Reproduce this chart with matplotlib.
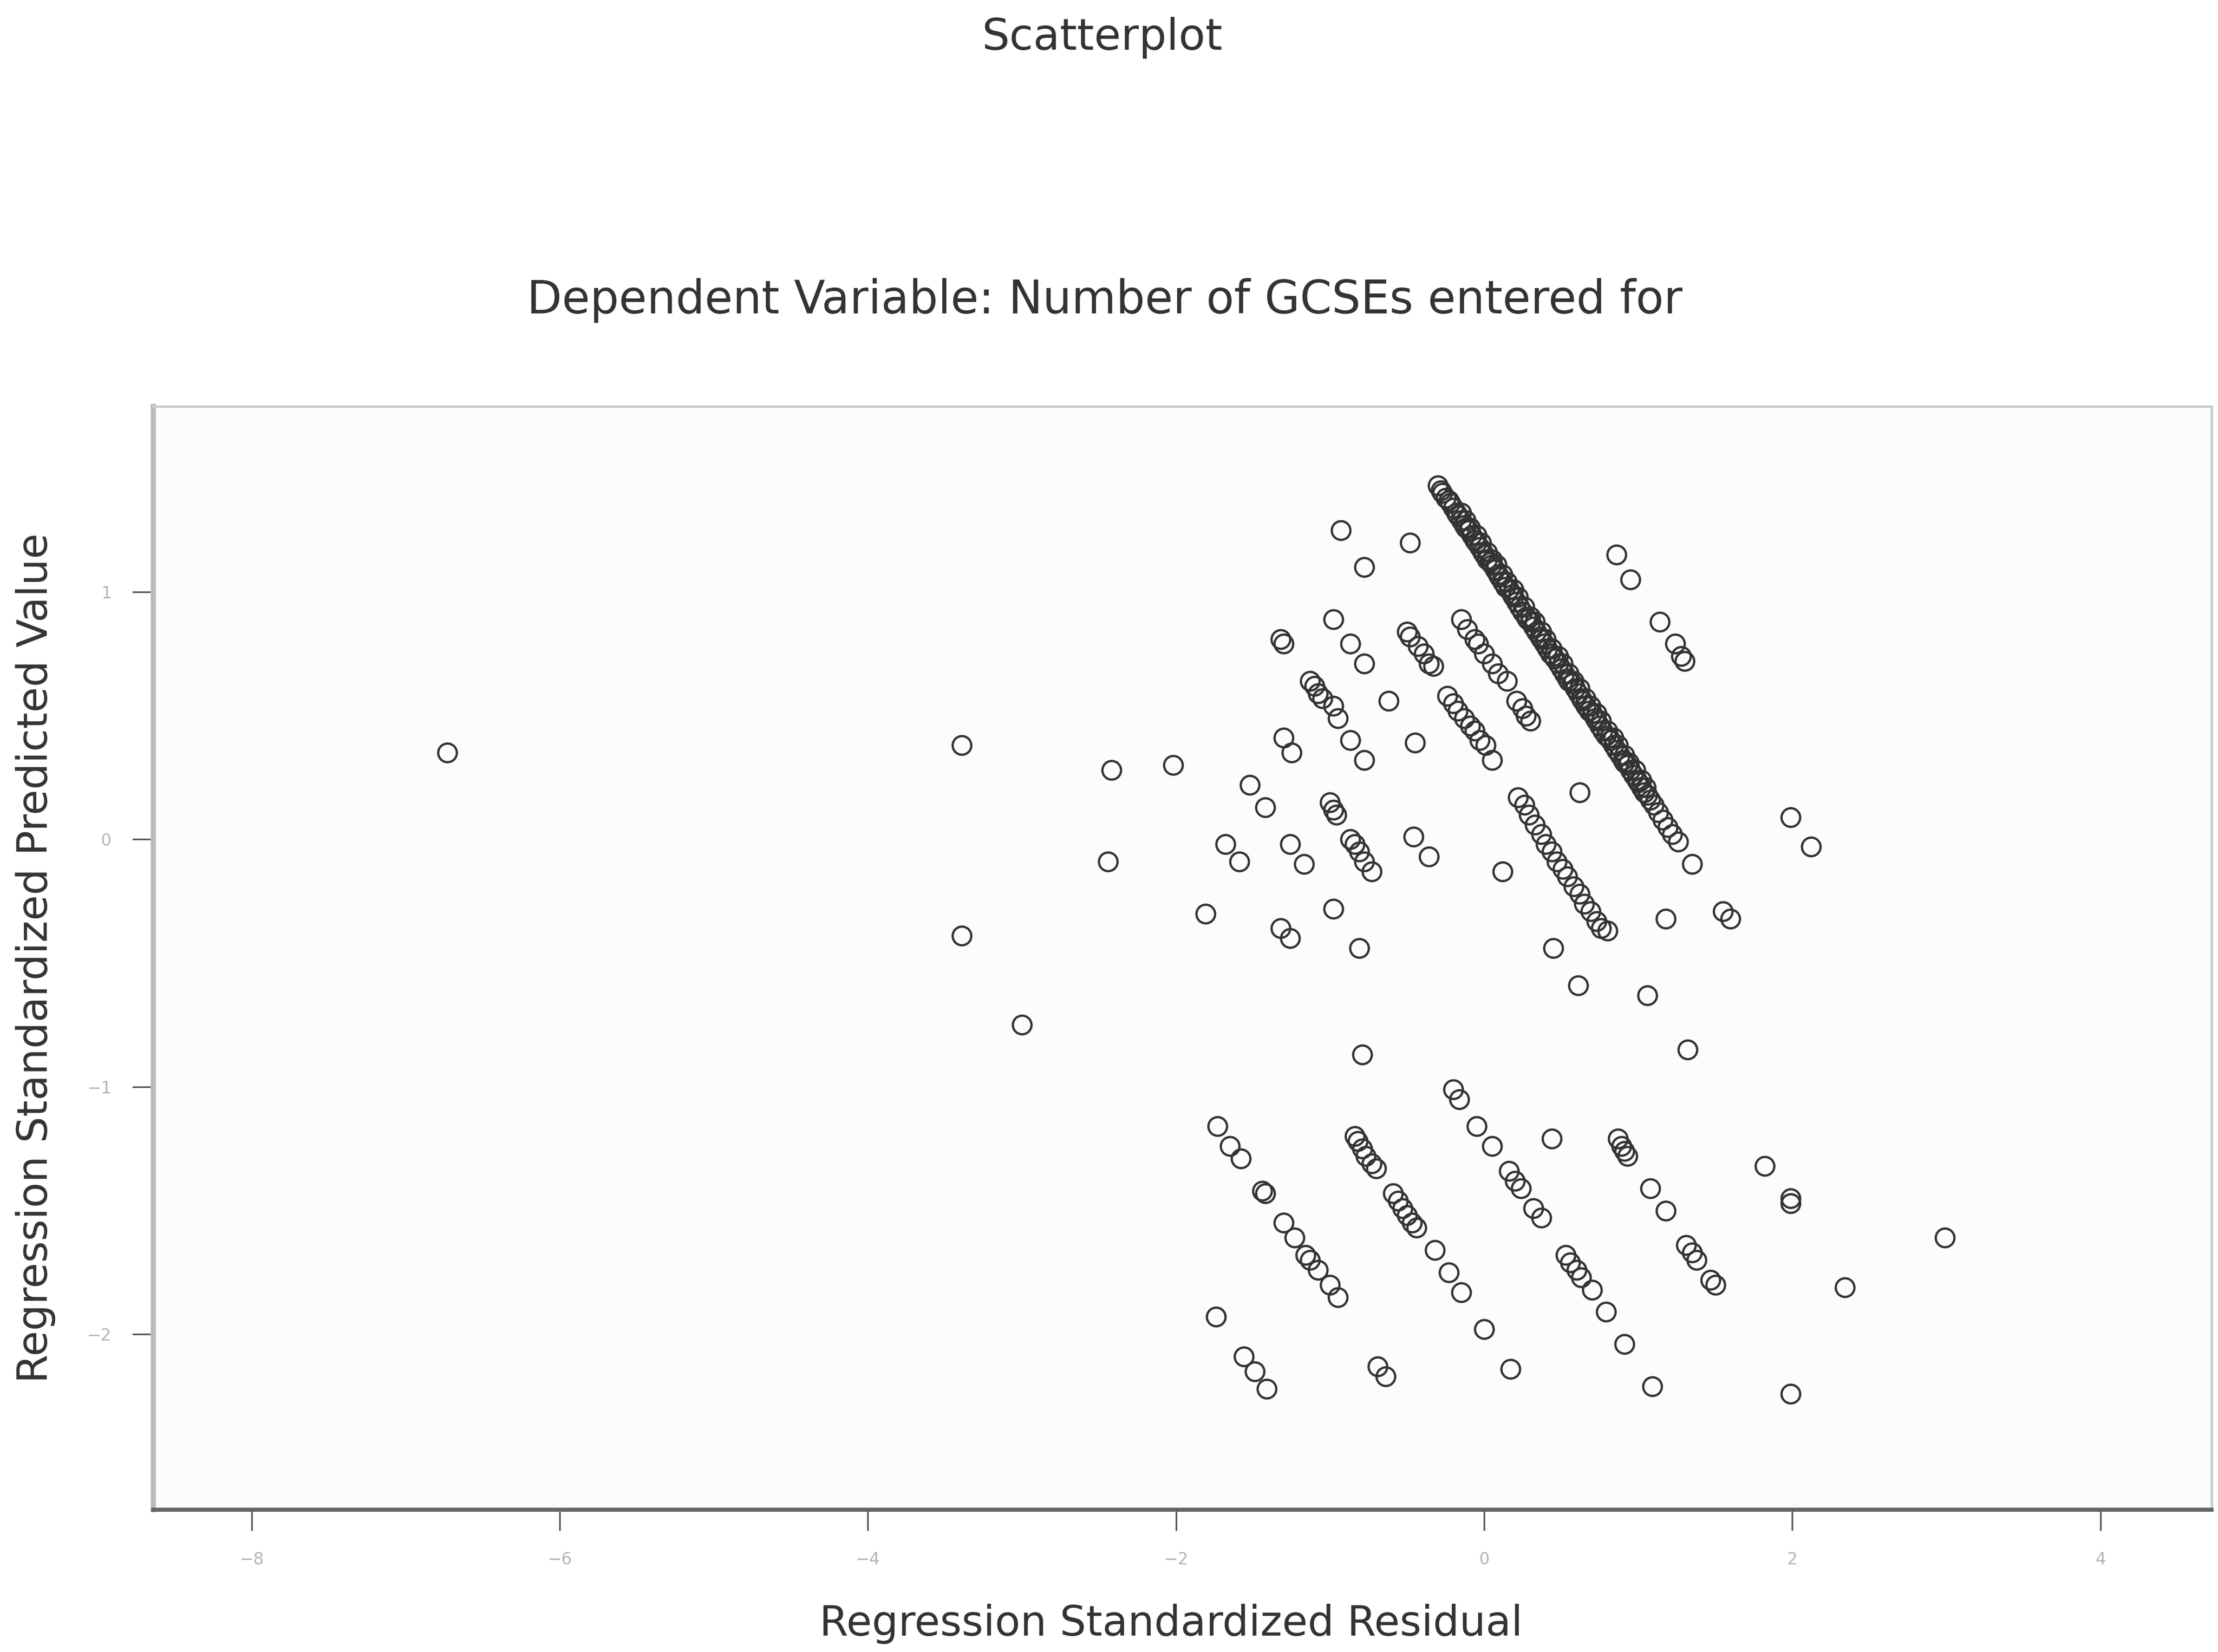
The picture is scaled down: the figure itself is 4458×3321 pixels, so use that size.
import numpy as np
import matplotlib.pyplot as plt

# residual (x) / predicted value (y) pairs
# sparse points to the left and right of the main clusters
x_misc = [-6.73, -3.39, -3.39, -3.00, -2.42, -2.44, -2.02, -1.81, -1.52, -1.42,
          -1.68, -1.59, -1.26, -1.17, -1.32, -1.30, -1.30, -1.25, -1.32, -1.26,
          -0.98, -0.87, -0.78, -0.87, -0.78, -0.98, -0.81, -0.93, -0.78, -0.62,
          -0.48, -0.45, -0.46, -0.36, 0.12, 0.45, 0.61, 0.62, 0.86, 0.95,
          1.14, 1.35, 1.18, 1.06, 1.32, 1.55, 1.60, 1.99, 2.12, -0.79]
y_misc = [0.35, 0.38, -0.39, -0.75, 0.28, -0.09, 0.30, -0.30, 0.22, 0.13,
          -0.02, -0.09, -0.02, -0.10, 0.81, 0.79, 0.41, 0.35, -0.36, -0.40,
          0.89, 0.79, 0.71, 0.40, 0.32, -0.28, -0.44, 1.25, 1.10, 0.56,
          1.20, 0.39, 0.01, -0.07, -0.13, -0.44, -0.59, 0.19, 1.15, 1.05,
          0.88, -0.10, -0.32, -0.63, -0.85, -0.29, -0.32, 0.09, -0.03, -0.87]

# short diagonal runs in the upper group
x_runs = [-1.13, -1.10, -1.08, -1.05, -0.98, -0.95,
          -1.00, -0.98, -0.96,
          -0.87, -0.84, -0.81, -0.78, -0.73,
          -0.50, -0.48, -0.43, -0.39, -0.36, -0.33,
          -0.24, -0.20, -0.17, -0.13, -0.09, -0.06, -0.03, 0.01, 0.05,
          -0.15, -0.11, -0.06, -0.04, 0.00, 0.05, 0.09, 0.15,
          0.21, 0.25, 0.27, 0.30,
          0.22, 0.26, 0.29, 0.33, 0.37, 0.40, 0.44, 0.47, 0.51, 0.54, 0.58,
          0.62, 0.65, 0.69, 0.73, 0.76, 0.80,
          1.24, 1.28, 1.30]
y_runs = [0.64, 0.62, 0.59, 0.57, 0.54, 0.49,
          0.15, 0.12, 0.10,
          0.00, -0.02, -0.05, -0.09, -0.13,
          0.84, 0.82, 0.78, 0.75, 0.71, 0.70,
          0.58, 0.55, 0.52, 0.49, 0.46, 0.44, 0.40, 0.38, 0.32,
          0.89, 0.85, 0.81, 0.79, 0.75, 0.71, 0.67, 0.64,
          0.56, 0.53, 0.50, 0.48,
          0.17, 0.14, 0.10, 0.06, 0.02, -0.02, -0.05, -0.09, -0.12, -0.15, -0.19,
          -0.22, -0.26, -0.29, -0.33, -0.36, -0.37,
          0.79, 0.74, 0.72]

# the long dense band
x_band = [-0.30, -0.28, -0.27, -0.25, -0.23, -0.22, -0.20, -0.18, -0.17, -0.15,
          -0.13, -0.12, -0.10, -0.08, -0.06, -0.05, -0.03, -0.01, 0.00, 0.02,
          0.04, 0.05, 0.07, 0.09, 0.10, 0.12, 0.14, 0.16, 0.18, 0.19,
          0.21, 0.23, 0.25, 0.27, 0.28, 0.30, 0.32, 0.34, 0.36, 0.37,
          0.39, 0.41, 0.43, 0.45, 0.46, 0.48, 0.50, 0.52, 0.54, 0.55,
          0.57, 0.59, 0.61, 0.63, 0.64, 0.66, 0.68, 0.70, 0.72, 0.73,
          0.75, 0.77, 0.79, 0.81, 0.82, 0.84, 0.86, 0.88, 0.90, 0.91,
          0.93, 0.95, 0.97, 0.99, 1.00, 1.02, 1.04, 1.06, 1.08, 1.10,
          1.13, 1.16, 1.19, 1.22, 1.26]
y_band = [1.43, 1.41, 1.40, 1.38, 1.37, 1.36, 1.34, 1.32, 1.31, 1.29,
          1.27, 1.26, 1.25, 1.23, 1.21, 1.20, 1.18, 1.16, 1.15, 1.13,
          1.12, 1.11, 1.09, 1.07, 1.06, 1.04, 1.02, 1.01, 0.99, 0.98,
          0.96, 0.94, 0.92, 0.90, 0.89, 0.88, 0.86, 0.84, 0.82, 0.81,
          0.79, 0.77, 0.75, 0.74, 0.73, 0.71, 0.69, 0.67, 0.65, 0.64,
          0.63, 0.61, 0.59, 0.57, 0.56, 0.54, 0.52, 0.51, 0.49, 0.48,
          0.46, 0.44, 0.42, 0.41, 0.40, 0.38, 0.36, 0.34, 0.32, 0.31,
          0.30, 0.28, 0.26, 0.24, 0.23, 0.21, 0.19, 0.18, 0.16, 0.14,
          0.11, 0.08, 0.05, 0.02, -0.01]

# second row along the thick middle of the band
x_band2 = [-0.15, -0.12, -0.09, -0.05, -0.02, 0.02, 0.05, 0.08, 0.12, 0.15,
           0.19, 0.22, 0.26, 0.30, 0.33, 0.37, 0.40, 0.44, 0.48, 0.51,
           0.55, 0.58, 0.62, 0.66, 0.69, 0.73, 0.76, 0.80, 0.84, 0.87,
           0.91, 0.94, 0.98, 1.02, 1.05]
y_band2 = [1.32, 1.29, 1.26, 1.23, 1.20, 1.16, 1.13, 1.11, 1.07, 1.04,
           1.01, 0.98, 0.94, 0.90, 0.88, 0.84, 0.81, 0.77, 0.74, 0.71,
           0.67, 0.64, 0.61, 0.57, 0.54, 0.51, 0.48, 0.44, 0.41, 0.38,
           0.34, 0.31, 0.28, 0.24, 0.21]

# lower group
x_low = [-1.73, -1.65, -1.58, -1.44, -1.42, -1.30, -1.23, -1.16, -1.13, -1.08,
         -1.00, -0.95, -1.74, -1.56, -1.49, -1.41,
         -0.84, -0.82, -0.79, -0.77, -0.73, -0.70,
         -0.59, -0.56, -0.53, -0.50, -0.47, -0.44, -0.32, -0.23, -0.15,
         -0.69, -0.64, -0.20, -0.16, -0.05, 0.05, 0.16, 0.20, 0.24, 0.32, 0.37,
         0.00, 0.17, 0.44, 0.53, 0.56, 0.60, 0.63, 0.70, 0.79, 0.91,
         0.87, 0.89, 0.91, 0.93, 1.08, 1.18, 1.31, 1.35, 1.38, 1.47, 1.50,
         1.09, 1.82, 1.99, 1.99, 2.34, 2.99, 1.99]
y_low = [-1.16, -1.24, -1.29, -1.42, -1.43, -1.55, -1.61, -1.68, -1.70, -1.74,
         -1.80, -1.85, -1.93, -2.09, -2.15, -2.22,
         -1.20, -1.22, -1.25, -1.28, -1.31, -1.33,
         -1.43, -1.46, -1.49, -1.52, -1.55, -1.57, -1.66, -1.75, -1.83,
         -2.13, -2.17, -1.01, -1.05, -1.16, -1.24, -1.34, -1.38, -1.41, -1.49, -1.53,
         -1.98, -2.14, -1.21, -1.68, -1.71, -1.74, -1.77, -1.82, -1.91, -2.04,
         -1.21, -1.24, -1.26, -1.28, -1.41, -1.50, -1.64, -1.67, -1.70, -1.78, -1.80,
         -2.21, -1.32, -1.45, -1.47, -1.81, -1.61, -2.24]

x = np.concatenate([x_misc, x_runs, x_band, x_band2, x_low])
y = np.concatenate([y_misc, y_runs, y_band, y_band2, y_low])

x_ticks = [-8, -6, -4, -2, 0, 2, 4]
y_ticks = [-2, -1, 0, 1]

fig = plt.figure(figsize=(14.86, 11.07), dpi=300)
ax = fig.add_axes([0.069, 0.086, 0.928, 0.668])
ax.set_facecolor('#fcfcfc')

ax.plot(x, y, 'o', ms=9, mfc='none', mec='#333333', mew=1.1)

ax.set_xlim(-8.64, 4.72)
ax.set_ylim(-2.71, 1.75)
ax.set_xticks(x_ticks)
ax.set_yticks(y_ticks)
ax.tick_params(direction='out', length=10, width=0.8, color='#555555',
               labelsize=8, labelcolor='#b5b5b5', pad=10)
for side in ['top', 'right', 'left']:
    ax.spines[side].set_color('#cccccc')
    ax.spines[side].set_linewidth(1.2)
ax.spines['left'].set_color('#bbbbbb')
ax.spines['left'].set_linewidth(2.5)
ax.spines['bottom'].set_color('#666666')
ax.spines['bottom'].set_linewidth(2.0)

fig.text(0.497, 0.977, 'Scatterplot', ha='center', va='center',
         fontsize=21, color='#333333')
fig.text(0.498, 0.818, 'Dependent Variable: Number of GCSEs entered for',
         ha='center', va='center', fontsize=22, color='#333333')
fig.text(0.528, 0.017, 'Regression Standardized Residual', ha='center',
         va='center', fontsize=20, color='#333333')
fig.text(0.016, 0.42, 'Regression Standardized Predicted Value', ha='center',
         va='center', rotation=90, fontsize=20, color='#333333')

plt.savefig('out.png', dpi=300, facecolor='white')
